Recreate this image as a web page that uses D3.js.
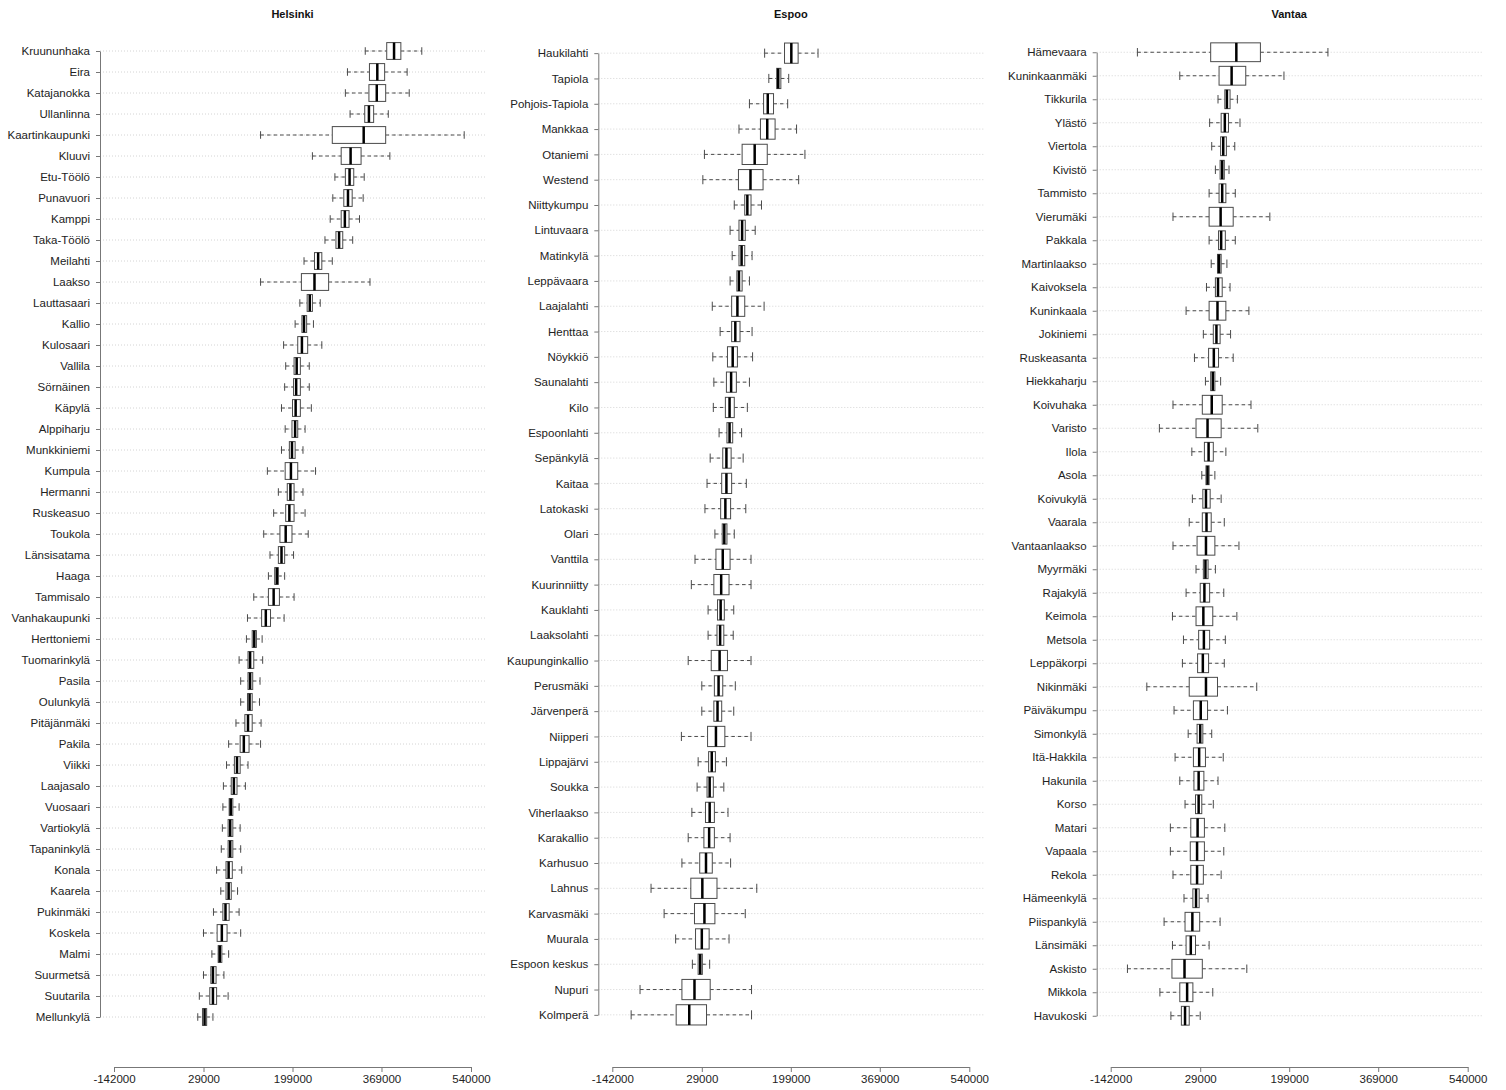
<!DOCTYPE html>
<html>
<head>
<meta charset="utf-8">
<script src="https://cdn.jsdelivr.net/npm/d3@7"></script>
<style>
  body { margin: 0; background: #fff; }
  svg { display: block; font-family: "Liberation Sans", Arial, sans-serif; }
</style>
</head>
<body>
<svg id="chart" width="1506" height="1090"></svg>
<script>
// Shared x-axis tick values
const xTicks = [-142000, 29000, 199000, 369000, 540000];

// Each row of a stats array: [lower whisker, Q1, median, Q3, upper whisker]
const helsinkiNames = ["Kruununhaka","Eira","Katajanokka","Ullanlinna","Kaartinkaupunki","Kluuvi","Etu-Töölö","Punavuori","Kamppi","Taka-Töölö","Meilahti","Laakso","Lauttasaari","Kallio","Kulosaari","Vallila","Sörnäinen","Käpylä","Alppiharju","Munkkiniemi","Kumpula","Hermanni","Ruskeasuo","Toukola","Länsisatama","Haaga","Tammisalo","Vanhakaupunki","Herttoniemi","Tuomarinkylä","Pasila","Oulunkylä","Pitäjänmäki","Pakila","Viikki","Laajasalo","Vuosaari","Vartiokylä","Tapaninkylä","Konala","Kaarela","Pukinmäki","Koskela","Malmi","Suurmetsä","Suutarila","Mellunkylä"];
const helsinkiStats = [
  [338000, 379000, 393000, 406000, 446000],
  [304000, 346000, 361000, 375000, 418000],
  [300000, 345000, 360000, 377000, 422000],
  [309000, 337000, 345000, 354000, 382000],
  [138000, 275000, 335000, 377000, 527000],
  [237000, 292000, 310000, 330000, 385000],
  [280000, 300000, 308000, 316000, 336000],
  [276000, 297000, 305000, 313000, 334000],
  [271000, 292000, 299000, 307000, 327000],
  [261000, 282000, 288000, 295000, 314000],
  [221000, 241000, 248000, 255000, 275000],
  [138000, 216000, 241000, 268000, 347000],
  [213000, 227000, 232000, 237000, 252000],
  [204000, 217000, 221000, 226000, 239000],
  [182000, 209000, 217000, 228000, 255000],
  [186000, 202000, 207000, 214000, 231000],
  [184000, 201000, 206000, 214000, 231000],
  [178000, 199000, 205000, 214000, 235000],
  [185000, 198000, 204000, 209000, 223000],
  [178000, 193000, 198000, 204000, 219000],
  [151000, 185000, 196000, 209000, 243000],
  [172000, 189000, 195000, 202000, 219000],
  [163000, 186000, 193000, 202000, 223000],
  [144000, 175000, 186000, 198000, 229000],
  [156000, 172000, 178000, 184000, 201000],
  [153000, 165000, 169000, 172000, 184000],
  [125000, 153000, 163000, 174000, 202000],
  [113000, 140000, 148000, 157000, 183000],
  [111000, 122000, 126000, 130000, 141000],
  [97000, 114000, 118000, 125000, 142000],
  [100000, 114000, 118000, 123000, 137000],
  [100000, 113000, 117000, 122000, 136000],
  [91000, 108000, 114000, 122000, 139000],
  [77000, 99000, 106000, 116000, 138000],
  [73000, 88000, 93000, 99000, 114000],
  [67000, 82000, 87000, 93000, 109000],
  [66000, 78000, 81000, 85000, 97000],
  [65000, 76000, 80000, 85000, 99000],
  [63000, 76000, 80000, 85000, 100000],
  [54000, 72000, 77000, 84000, 102000],
  [62000, 72000, 77000, 82000, 94000],
  [48000, 66000, 71000, 78000, 97000],
  [29000, 55000, 64000, 74000, 100000],
  [45000, 57000, 60000, 64000, 77000],
  [29000, 43000, 47000, 53000, 68000],
  [21000, 41000, 47000, 54000, 76000],
  [18000, 27000, 31000, 35000, 47000]
];

const espooNames = ["Haukilahti","Tapiola","Pohjois-Tapiola","Mankkaa","Otaniemi","Westend","Niittykumpu","Lintuvaara","Matinkylä","Leppävaara","Laajalahti","Henttaa","Nöykkiö","Saunalahti","Kilo","Espoonlahti","Sepänkylä","Kaitaa","Latokaski","Olari","Vanttila","Kuurinniitty","Kauklahti","Laaksolahti","Kaupunginkallio","Perusmäki","Järvenperä","Niipperi","Lippajärvi","Soukka","Viherlaakso","Karakallio","Karhusuo","Lahnus","Karvasmäki","Muurala","Espoon keskus","Nupuri","Kolmperä"];
const espooStats = [
  [149000, 187000, 200000, 213000, 251000],
  [157000, 172000, 175000, 180000, 195000],
  [120000, 147000, 155000, 166000, 193000],
  [100000, 141000, 154000, 169000, 210000],
  [34000, 106000, 130000, 154000, 226000],
  [31000, 99000, 122000, 146000, 214000],
  [91000, 111000, 116000, 123000, 143000],
  [83000, 100000, 106000, 112000, 131000],
  [87000, 100000, 105000, 111000, 125000],
  [83000, 96000, 100000, 106000, 120000],
  [49000, 86000, 97000, 111000, 148000],
  [64000, 86000, 93000, 102000, 125000],
  [50000, 78000, 88000, 97000, 126000],
  [52000, 76000, 85000, 95000, 120000],
  [51000, 74000, 82000, 91000, 116000],
  [62000, 77000, 82000, 88000, 105000],
  [45000, 69000, 76000, 85000, 108000],
  [39000, 67000, 76000, 86000, 114000],
  [35000, 65000, 74000, 84000, 113000],
  [54000, 68000, 72000, 77000, 91000],
  [16000, 56000, 69000, 83000, 123000],
  [9000, 52000, 66000, 81000, 123000],
  [41000, 59000, 65000, 72000, 90000],
  [41000, 58000, 64000, 71000, 89000],
  [3000, 47000, 63000, 78000, 123000],
  [29000, 53000, 61000, 69000, 93000],
  [29000, 52000, 59000, 67000, 90000],
  [-10000, 40000, 56000, 73000, 123000],
  [22000, 42000, 48000, 55000, 76000],
  [20000, 39000, 44000, 51000, 71000],
  [10000, 36000, 44000, 53000, 79000],
  [3000, 33000, 43000, 53000, 83000],
  [-9000, 25000, 37000, 49000, 84000],
  [-68000, 8000, 30000, 58000, 134000],
  [-43000, 15000, 34000, 54000, 112000],
  [-21000, 17000, 29000, 43000, 81000],
  [11000, 22000, 26000, 30000, 44000],
  [-89000, -9000, 15000, 45000, 124000],
  [-106000, -20000, 5000, 38000, 124000]
];

const vantaaNames = ["Hämevaara","Kuninkaanmäki","Tikkurila","Ylästö","Viertola","Kivistö","Tammisto","Vierumäki","Pakkala","Martinlaakso","Kaivoksela","Kuninkaala","Jokiniemi","Ruskeasanta","Hiekkaharju","Koivuhaka","Varisto","Ilola","Asola","Koivukylä","Vaarala","Vantaanlaakso","Myyrmäki","Rajakylä","Keimola","Metsola","Leppäkorpi","Nikinmäki","Päiväkumpu","Simonkylä","Itä-Hakkila","Hakunila","Korso","Matari","Vapaala","Rekola","Hämeenkylä","Piispankylä","Länsimäki","Askisto","Mikkola","Havukoski"];
const vantaaStats = [
  [-91000, 49000, 98000, 144000, 273000],
  [-10000, 65000, 89000, 116000, 189000],
  [63000, 76000, 80000, 86000, 100000],
  [47000, 69000, 76000, 83000, 105000],
  [51000, 68000, 73000, 79000, 95000],
  [58000, 67000, 71000, 75000, 84000],
  [46000, 65000, 71000, 78000, 96000],
  [-23000, 46000, 68000, 92000, 162000],
  [46000, 64000, 69000, 77000, 96000],
  [50000, 62000, 65000, 69000, 80000],
  [41000, 58000, 63000, 71000, 86000],
  [2000, 46000, 62000, 78000, 122000],
  [35000, 54000, 60000, 67000, 87000],
  [18000, 45000, 55000, 64000, 92000],
  [39000, 49000, 53000, 57000, 68000],
  [-23000, 33000, 51000, 71000, 126000],
  [-49000, 21000, 43000, 69000, 139000],
  [13000, 37000, 45000, 54000, 78000],
  [32000, 40000, 43000, 46000, 57000],
  [14000, 34000, 40000, 48000, 69000],
  [8000, 33000, 41000, 50000, 75000],
  [-23000, 23000, 40000, 57000, 103000],
  [21000, 35000, 39000, 44000, 58000],
  [2000, 29000, 37000, 47000, 74000],
  [-24000, 21000, 35000, 53000, 99000],
  [-3000, 26000, 36000, 47000, 77000],
  [-5000, 24000, 34000, 45000, 75000],
  [-73000, 8000, 40000, 62000, 137000],
  [-21000, 16000, 30000, 43000, 81000],
  [6000, 23000, 29000, 34000, 51000],
  [-19000, 16000, 27000, 39000, 73000],
  [-10000, 17000, 26000, 36000, 63000],
  [0, 20000, 26000, 32000, 54000],
  [-28000, 11000, 24000, 37000, 76000],
  [-28000, 10000, 23000, 37000, 74000],
  [-23000, 11000, 23000, 35000, 69000],
  [-2000, 15000, 21000, 27000, 44000],
  [-40000, 0, 14000, 28000, 67000],
  [-24000, 2000, 11000, 20000, 46000],
  [-110000, -25000, -1000, 33000, 118000],
  [-48000, -10000, 4000, 15000, 53000],
  [-27000, -7000, 0, 8000, 29000]
];

const panels = [
  { title: "Helsinki", names: helsinkiNames, stats: helsinkiStats, left: 100 },
  { title: "Espoo",    names: espooNames,    stats: espooStats,    left: 598.3 },
  { title: "Vantaa",   names: vantaaNames,   stats: vantaaStats,   left: 1096.7 }
];

// Layout
const plotW = 385;       // width of each panel's plotting region
const inset = 14;        // axis runs slightly inside the plotting region
const yTop = 40.5, yBottom = 1027.5;
const xAxisY = 1067;
const boxColor = "#4a4a4a";

const svg = d3.select("#chart");

panels.forEach(p => {
  const g = svg.append("g");

  const x = d3.scaleLinear()
    .domain([xTicks[0], xTicks[xTicks.length - 1]])
    .range([p.left + inset, p.left + plotW - inset]);

  const y = d3.scaleBand().domain(p.names).range([yTop, yBottom]);
  const bw = y.bandwidth();
  const cy = n => y(n) + bw / 2;
  const boxH = bw * 0.8;
  const stapleH = boxH * 0.45;

  // Title
  g.append("text")
    .attr("x", p.left + plotW / 2)
    .attr("y", 18)
    .attr("text-anchor", "middle")
    .attr("font-weight", "bold")
    .attr("font-size", "11px")
    .attr("fill", "#111")
    .text(p.title);

  // Dotted horizontal guide lines
  g.append("g").selectAll("line")
    .data(p.names)
    .join("line")
    .attr("x1", p.left).attr("x2", p.left + plotW)
    .attr("y1", cy).attr("y2", cy)
    .attr("stroke", "#d4d4d4")
    .attr("stroke-width", 1)
    .attr("stroke-dasharray", "1,2");

  // Left axis with neighbourhood names
  const yPts = d3.scalePoint().domain(p.names)
    .range([cy(p.names[0]), cy(p.names[p.names.length - 1])]);
  const yAxis = g.append("g")
    .attr("transform", `translate(${p.left},0)`)
    .call(d3.axisLeft(yPts).tickSize(4).tickSizeOuter(0).tickPadding(6));
  yAxis.select(".domain").attr("stroke", "#777");
  yAxis.selectAll(".tick line").attr("stroke", "#777");
  yAxis.selectAll(".tick text").attr("font-size", "11.5px").attr("fill", "#222")
    .attr("font-family", "'Liberation Sans', Arial, sans-serif");

  // Bottom axis
  const xAxis = g.append("g")
    .attr("transform", `translate(0,${xAxisY})`)
    .call(d3.axisBottom(x).tickValues(xTicks).tickSize(5).tickSizeOuter(0)
      .tickPadding(3).tickFormat(d => String(d)));
  xAxis.select(".domain").attr("stroke", "#777");
  xAxis.selectAll(".tick line").attr("stroke", "#777");
  xAxis.selectAll(".tick text").attr("font-size", "11.5px").attr("fill", "#222")
    .attr("font-family", "'Liberation Sans', Arial, sans-serif");

  // Box plots
  const rows = p.names.map((n, i) => ({ name: n, s: p.stats[i] }));
  const bx = g.append("g").selectAll("g").data(rows).join("g")
    .attr("transform", d => `translate(0,${cy(d.name)})`);

  // whiskers
  bx.append("line")
    .attr("x1", d => x(d.s[0])).attr("x2", d => x(d.s[1]))
    .attr("y1", 0).attr("y2", 0)
    .attr("stroke", boxColor).attr("stroke-dasharray", "3.5,3");
  bx.append("line")
    .attr("x1", d => x(d.s[3])).attr("x2", d => x(d.s[4]))
    .attr("y1", 0).attr("y2", 0)
    .attr("stroke", boxColor).attr("stroke-dasharray", "3.5,3");

  // staples
  [0, 4].forEach(k => {
    bx.append("line")
      .attr("x1", d => x(d.s[k])).attr("x2", d => x(d.s[k]))
      .attr("y1", -stapleH / 2).attr("y2", stapleH / 2)
      .attr("stroke", boxColor);
  });

  // boxes
  bx.append("rect")
    .attr("x", d => x(d.s[1]))
    .attr("width", d => x(d.s[3]) - x(d.s[1]))
    .attr("y", -boxH / 2).attr("height", boxH)
    .attr("fill", "#fff")
    .attr("stroke", boxColor).attr("stroke-width", 1);

  // medians
  bx.append("line")
    .attr("x1", d => x(d.s[2])).attr("x2", d => x(d.s[2]))
    .attr("y1", -boxH / 2).attr("y2", boxH / 2)
    .attr("stroke", "#000").attr("stroke-width", 2.5);
});
</script>
</body>
</html>
